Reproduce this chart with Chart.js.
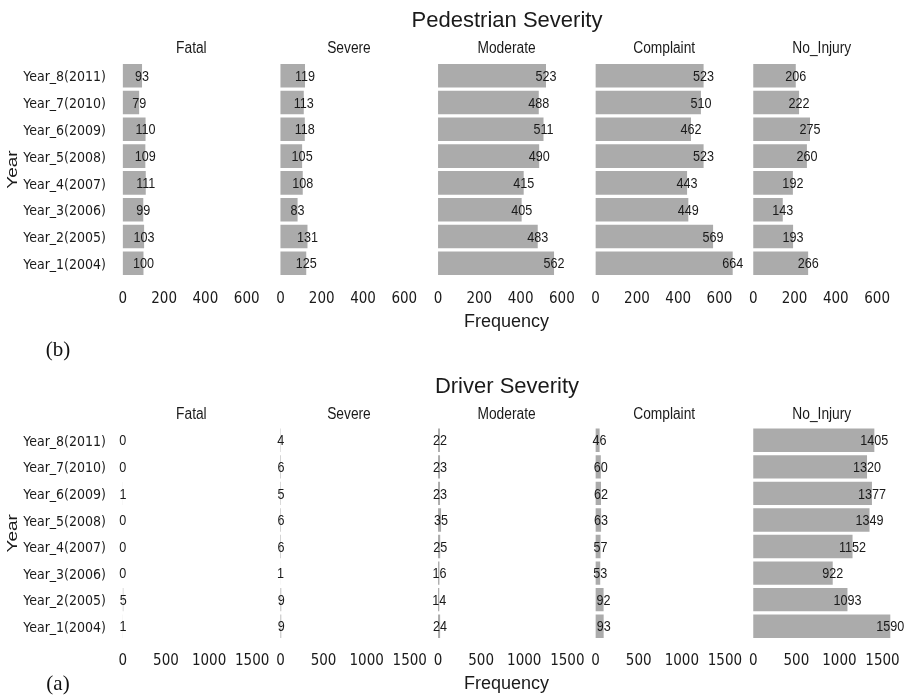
<!DOCTYPE html>
<html>
<head>
<meta charset="utf-8">
<script src="https://cdn.jsdelivr.net/npm/chart.js@4.4.0/dist/chart.umd.min.js"></script>
<style>
  html, body { margin: 0; padding: 0; background: #fff; overflow: hidden; }
  #page { position: relative; width: 904px; height: 696px; }
  .row { position: absolute; left: 0; width: 904px; height: 348px; }
  .tag { position: absolute; font-family: 'Liberation Serif', 'DejaVu Serif', serif; font-size: 21px; color: #111; transform: translate(-50%, -50%); }
</style>
</head>
<body>
<div id="page">
  <div class="row" style="top:0"><canvas id="ped" width="904" height="348"></canvas></div>
  <div class="row" style="top:348px"><canvas id="drv" width="904" height="348"></canvas></div>
  <div class="tag" style="left:58px;top:349px">(b)</div>
  <div class="tag" style="left:58px;top:683px">(a)</div>
</div>
<script>
(function () {
  // categories (oldest first, drawn bottom-up)
  var years = ['Year_1(2004)', 'Year_2(2005)', 'Year_3(2006)', 'Year_4(2007)',
               'Year_5(2008)', 'Year_6(2009)', 'Year_7(2010)', 'Year_8(2011)'];
  var severities = ['Fatal', 'Severe', 'Moderate', 'Complaint', 'No_Injury'];

  // pedestrian counts
  var pedFatal     = [100, 103, 99, 111, 109, 110, 79, 93];
  var pedSevere    = [125, 131, 83, 108, 105, 118, 113, 119];
  var pedModerate  = [562, 483, 405, 415, 490, 511, 488, 523];
  var pedComplaint = [664, 569, 449, 443, 523, 462, 510, 523];
  var pedNoInjury  = [266, 193, 143, 192, 260, 275, 222, 206];
  var pedTicks = [0, 200, 400, 600];

  // driver counts
  var drvFatal     = [1, 5, 0, 0, 0, 1, 0, 0];
  var drvSevere    = [9, 9, 1, 6, 6, 5, 6, 4];
  var drvModerate  = [24, 14, 16, 25, 35, 23, 23, 22];
  var drvComplaint = [93, 92, 53, 57, 63, 62, 60, 46];
  var drvNoInjury  = [1590, 1093, 922, 1152, 1349, 1377, 1320, 1405];
  var drvTicks = [0, 500, 1000, 1500];

  var NARROW = "'DejaVu Sans Condensed', 'Liberation Sans Narrow', sans-serif";
  var REGULAR = "'Liberation Sans', Arial, sans-serif";
  var INK = '#1a1a1a';

  // narrow-looking text: regular face squeezed sideways
  function squeezed(ctx, text, x, y, squeeze) {
    ctx.save();
    ctx.translate(x, y);
    ctx.scale(squeeze, 1);
    ctx.fillText(text, 0, 0);
    ctx.restore();
  }

  var panelText = {
    id: 'panelText',
    afterDatasetsDraw: function (chart) {
      var ctx = chart.ctx;
      ctx.save();
      ctx.font = '15px ' + REGULAR;
      ctx.fillStyle = INK;
      ctx.textAlign = 'center';
      ctx.textBaseline = 'middle';
      chart.data.datasets.forEach(function (ds, i) {
        chart.getDatasetMeta(i).data.forEach(function (bar, j) {
          squeezed(ctx, String(ds.data[j]), bar.x, bar.y + 1, 0.84);
        });
      });
      ctx.restore();
    },
    afterDraw: function (chart) {
      var ctx = chart.ctx;
      var o = chart.options.plugins.panelText;
      var area = chart.chartArea;
      ctx.save();
      ctx.fillStyle = INK;
      ctx.textAlign = 'center';
      ctx.textBaseline = 'middle';

      ctx.font = '22px ' + REGULAR;
      ctx.fillText(o.title, 507, o.titleY);

      ctx.font = '16px ' + REGULAR;
      severities.forEach(function (name, i) {
        var sc = chart.scales['x' + i];
        squeezed(ctx, name, sc.getPixelForValue(o.peak / 2), o.facetY, 0.86);
      });

      ctx.font = '18px ' + REGULAR;
      ctx.fillText('Frequency', chart.scales.x2.getPixelForValue(o.peak / 2), o.freqY);

      ctx.translate(13, (area.top + area.bottom) / 2);
      ctx.rotate(-Math.PI / 2);
      ctx.scale(1, 0.75);
      ctx.font = '19px ' + REGULAR;
      ctx.fillText('Year', 0, 0);
      ctx.restore();
    }
  };

  function makeRow(canvasId, title, series, ticks, place) {
    var peak = 0;
    series.forEach(function (values) {
      values.forEach(function (v) { if (v > peak) peak = v; });
    });

    var scales = {
      y: {
        type: 'category',
        reverse: true,
        grid: { display: false, drawTicks: false },
        border: { display: false },
        ticks: { font: { family: NARROW, size: 14 }, color: INK, padding: 10, labelOffset: 2 },
        afterFit: function (s) {
          s.width = 116;
          s.paddingTop = 0;
          s.paddingBottom = 0;
        }
      }
    };

    var datasets = series.map(function (values, i) {
      var id = 'x' + i;
      scales[id] = {
        type: 'linear',
        position: 'bottom',
        stack: 'panels',
        stackWeight: 1,
        min: -0.05 * peak,
        max: 1.1 * peak,
        grid: { display: false, drawTicks: false },
        border: { display: false },
        afterBuildTicks: function (s) {
          s.ticks = ticks.map(function (v) { return { value: v }; });
        },
        ticks: {
          font: { family: NARROW, size: 15 },
          color: INK,
          padding: 13,
          maxRotation: 0,
          autoSkip: false,
          callback: function (v) { return String(v); }
        },
        afterFit: function (s) {
          s.height = place.axisHeight;
          s.paddingLeft = 0;
          s.paddingRight = 0;
        }
      };
      return {
        label: severities[i],
        data: values,
        xAxisID: id,
        yAxisID: 'y',
        grouped: false,
        backgroundColor: '#ababab',
        borderWidth: 0,
        barPercentage: 0.88,
        categoryPercentage: 1
      };
    });

    return new Chart(document.getElementById(canvasId), {
      type: 'bar',
      data: { labels: years, datasets: datasets },
      plugins: [panelText],
      options: {
        indexAxis: 'y',
        responsive: false,
        animation: false,
        layout: { padding: { top: place.top, left: 0, right: 0, bottom: 0 } },
        scales: scales,
        plugins: {
          legend: { display: false },
          tooltip: { enabled: false },
          panelText: {
            title: title,
            peak: peak,
            titleY: place.titleY,
            facetY: place.facetY,
            freqY: place.freqY
          }
        }
      }
    });
  }

  makeRow('ped', 'Pedestrian Severity',
    [pedFatal, pedSevere, pedModerate, pedComplaint, pedNoInjury], pedTicks,
    { top: 62.3, axisHeight: 71.3, titleY: 20.5, facetY: 49, freqY: 322 });

  makeRow('drv', 'Driver Severity',
    [drvFatal, drvSevere, drvModerate, drvComplaint, drvNoInjury], drvTicks,
    { top: 79, axisHeight: 56.5, titleY: 38.5, facetY: 67, freqY: 336 });
})();
</script>
</body>
</html>
